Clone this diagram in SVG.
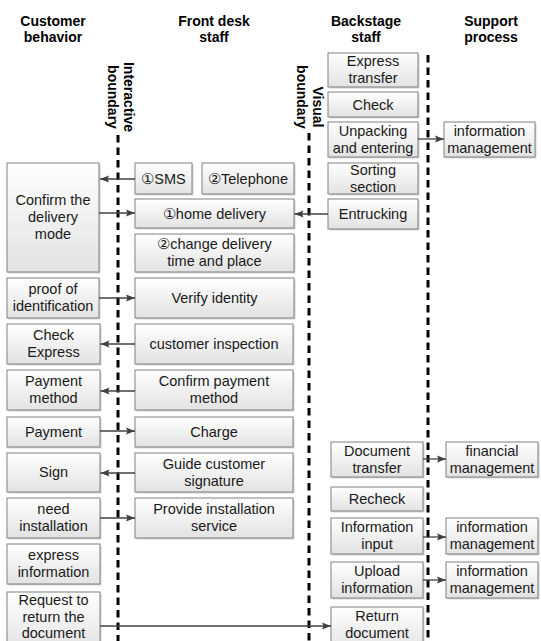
<svg xmlns="http://www.w3.org/2000/svg" width="541" height="641" viewBox="0 0 541 641">
<defs>
<linearGradient id="g" x1="0" y1="0" x2="0" y2="1">
<stop offset="0" stop-color="#ffffff"/>
<stop offset="1" stop-color="#e2e2e2"/>
</linearGradient>
<marker id="ah" markerUnits="userSpaceOnUse" markerWidth="10" markerHeight="8" refX="9" refY="4" orient="auto">
<path d="M0,0.5 L9,4 L0,7.5 L1.5,4 z" fill="#404040"/>
</marker>
<style>
.b{fill:url(#g);stroke:#808080;stroke-width:1}
.s{fill:#b8b8b8;opacity:0.6}
.t{font-family:"Liberation Sans",Arial,sans-serif;font-size:14.5px;fill:#1a1a1a;text-anchor:middle}
.h{font-family:"Liberation Sans",Arial,sans-serif;font-size:14px;font-weight:bold;fill:#000;text-anchor:middle}
.d{stroke:#000;stroke-width:3;stroke-dasharray:7.5 5;fill:none}
.a{stroke:#404040;stroke-width:1.3;fill:none;marker-end:url(#ah)}
</style>
</defs>
<rect width="541" height="641" fill="#fff"/>

<g id="headers">
<text class="h" x="53" y="26">Customer</text>
<text class="h" x="53" y="42">behavior</text>
<text class="h" x="214" y="26">Front desk</text>
<text class="h" x="214" y="42">staff</text>
<text class="h" x="366" y="26">Backstage</text>
<text class="h" x="366" y="42">staff</text>
<text class="h" x="491" y="26">Support</text>
<text class="h" x="491" y="42">process</text>
</g>

<g id="boundaries">
<line class="d" x1="118" y1="135" x2="118" y2="641"/>
<line class="d" x1="309" y1="133" x2="309" y2="641"/>
<line class="d" x1="428" y1="55" x2="428" y2="641"/>
<g transform="translate(0,97) rotate(90)">
<text class="h" x="0" y="-124">Interactive</text>
<text class="h" x="0" y="-108">boundary</text>
</g>
<g transform="translate(0,97) rotate(90)">
<text class="h" x="10" y="-313">Visual</text>
<text class="h" x="0" y="-297">boundary</text>
</g>
</g>

<g id="n1"><rect class="s" x="8.5" y="164.5" width="92" height="109"/><rect class="b" x="7" y="163" width="92" height="109"/><text class="t" x="53" y="205">Confirm the</text><text class="t" x="53" y="222">delivery</text><text class="t" x="53" y="239">mode</text></g>
<g id="n2"><rect class="s" x="8.5" y="279.5" width="92" height="40"/><rect class="b" x="7" y="278" width="92" height="40"/><text class="t" x="53" y="294">proof of</text><text class="t" x="53" y="311">identification</text></g>
<g id="n3"><rect class="s" x="8.5" y="325.5" width="93" height="40"/><rect class="b" x="7" y="324" width="93" height="40"/><text class="t" x="53.5" y="340">Check</text><text class="t" x="53.5" y="357">Express</text></g>
<g id="n4"><rect class="s" x="8.5" y="371.5" width="93" height="40"/><rect class="b" x="7" y="370" width="93" height="40"/><text class="t" x="53.5" y="386">Payment</text><text class="t" x="53.5" y="403">method</text></g>
<g id="n5"><rect class="s" x="8.5" y="418.5" width="93" height="30"/><rect class="b" x="7" y="417" width="93" height="30"/><text class="t" x="53.5" y="437">Payment</text></g>
<g id="n6"><rect class="s" x="8.5" y="454.5" width="93" height="39"/><rect class="b" x="7" y="453" width="93" height="39"/><text class="t" x="53.5" y="477">Sign</text></g>
<g id="n7"><rect class="s" x="8.5" y="499.5" width="93" height="40"/><rect class="b" x="7" y="498" width="93" height="40"/><text class="t" x="53.5" y="514">need</text><text class="t" x="53.5" y="531">installation</text></g>
<g id="n8"><rect class="s" x="8.5" y="545.5" width="93" height="40"/><rect class="b" x="7" y="544" width="93" height="40"/><text class="t" x="53.5" y="560">express</text><text class="t" x="53.5" y="577">information</text></g>
<g id="n9"><rect class="s" x="8.5" y="593.5" width="93" height="60"/><rect class="b" x="7" y="592" width="93" height="60"/><text class="t" x="53.5" y="605">Request to</text><text class="t" x="53.5" y="621.5">return the</text><text class="t" x="53.5" y="638">document</text></g>

<g id="f1"><rect class="s" x="136.5" y="164.5" width="57" height="31"/><rect class="b" x="135" y="163" width="57" height="31"/><text class="t" x="163.5" y="183.5">①SMS</text></g>
<g id="f2"><rect class="s" x="203.5" y="164.5" width="92" height="31"/><rect class="b" x="202" y="163" width="92" height="31"/><text class="t" x="248" y="183.5">②Telephone</text></g>
<g id="f3"><rect class="s" x="136.5" y="200.5" width="159" height="29"/><rect class="b" x="135" y="199" width="159" height="29"/><text class="t" x="214.5" y="218.5">①home delivery</text></g>
<g id="f4"><rect class="s" x="136.5" y="235.5" width="159" height="38"/><rect class="b" x="135" y="234" width="159" height="38"/><text class="t" x="214.5" y="249">②change delivery</text><text class="t" x="214.5" y="266">time and place</text></g>
<g id="f5"><rect class="s" x="136.5" y="279.5" width="159" height="40"/><rect class="b" x="135" y="278" width="159" height="40"/><text class="t" x="214.5" y="303">Verify identity</text></g>
<g id="f6"><rect class="s" x="136.5" y="325.5" width="158" height="40"/><rect class="b" x="135" y="324" width="158" height="40"/><text class="t" x="214" y="349">customer inspection</text></g>
<g id="f7"><rect class="s" x="136.5" y="371.5" width="158" height="40"/><rect class="b" x="135" y="370" width="158" height="40"/><text class="t" x="214" y="386">Confirm payment</text><text class="t" x="214" y="403">method</text></g>
<g id="f8"><rect class="s" x="136.5" y="418.5" width="158" height="30"/><rect class="b" x="135" y="417" width="158" height="30"/><text class="t" x="214" y="437">Charge</text></g>
<g id="f9"><rect class="s" x="136.5" y="454.5" width="158" height="39"/><rect class="b" x="135" y="453" width="158" height="39"/><text class="t" x="214" y="468.5">Guide customer</text><text class="t" x="214" y="485.5">signature</text></g>
<g id="f10"><rect class="s" x="136.5" y="499.5" width="158" height="40"/><rect class="b" x="135" y="498" width="158" height="40"/><text class="t" x="214" y="514">Provide installation</text><text class="t" x="214" y="531">service</text></g>

<g id="b1"><rect class="s" x="329.5" y="54.5" width="90" height="34"/><rect class="b" x="328" y="53" width="90" height="34"/><text class="t" x="373" y="66">Express</text><text class="t" x="373" y="83">transfer</text></g>
<g id="b2"><rect class="s" x="329.5" y="93.5" width="90" height="25"/><rect class="b" x="328" y="92" width="90" height="25"/><text class="t" x="373" y="109.5">Check</text></g>
<g id="b3"><rect class="s" x="329.5" y="123.5" width="90" height="35"/><rect class="b" x="328" y="122" width="90" height="35"/><text class="t" x="373" y="135.5">Unpacking</text><text class="t" x="373" y="152.5">and entering</text></g>
<g id="b4"><rect class="s" x="329.5" y="164.5" width="90" height="31"/><rect class="b" x="328" y="163" width="90" height="31"/><text class="t" x="373" y="174.5">Sorting</text><text class="t" x="373" y="191.5">section</text></g>
<g id="b5"><rect class="s" x="329.5" y="200.5" width="90" height="30"/><rect class="b" x="328" y="199" width="90" height="30"/><text class="t" x="373" y="219">Entrucking</text></g>
<g id="b6"><rect class="s" x="332.5" y="443.5" width="92" height="35"/><rect class="b" x="331" y="442" width="92" height="35"/><text class="t" x="377" y="455.5">Document</text><text class="t" x="377" y="472.5">transfer</text></g>
<g id="b7"><rect class="s" x="332.5" y="488.5" width="92" height="24"/><rect class="b" x="331" y="487" width="92" height="24"/><text class="t" x="377" y="504">Recheck</text></g>
<g id="b8"><rect class="s" x="332.5" y="519.5" width="92" height="36"/><rect class="b" x="331" y="518" width="92" height="36"/><text class="t" x="377" y="532">Information</text><text class="t" x="377" y="549">input</text></g>
<g id="b9"><rect class="s" x="332.5" y="563.5" width="92" height="36"/><rect class="b" x="331" y="562" width="92" height="36"/><text class="t" x="377" y="576">Upload</text><text class="t" x="377" y="593">information</text></g>
<g id="b10"><rect class="s" x="332.5" y="608.5" width="92" height="45"/><rect class="b" x="331" y="607" width="92" height="45"/><text class="t" x="377" y="621">Return</text><text class="t" x="377" y="638">document</text></g>

<g id="s1"><rect class="s" x="445.5" y="123.5" width="91" height="35"/><rect class="b" x="444" y="122" width="91" height="35"/><text class="t" x="489.5" y="135.5">information</text><text class="t" x="489.5" y="152.5">management</text></g>
<g id="s2"><rect class="s" x="447.5" y="443.5" width="92" height="35"/><rect class="b" x="446" y="442" width="92" height="35"/><text class="t" x="492" y="455.5">financial</text><text class="t" x="492" y="472.5">management</text></g>
<g id="s3"><rect class="s" x="447.5" y="519.5" width="92" height="36"/><rect class="b" x="446" y="518" width="92" height="36"/><text class="t" x="492" y="532">information</text><text class="t" x="492" y="549">management</text></g>
<g id="s4"><rect class="s" x="447.5" y="563.5" width="92" height="36"/><rect class="b" x="446" y="562" width="92" height="36"/><text class="t" x="492" y="576">information</text><text class="t" x="492" y="593">management</text></g>

<g id="connectors">
<line class="a" x1="135" y1="179" x2="100" y2="179"/>
<line class="a" x1="99" y1="213" x2="135" y2="213"/>
<line class="a" x1="328" y1="214" x2="294.5" y2="214"/>
<line class="a" x1="418" y1="139" x2="444" y2="139"/>
<line class="a" x1="99" y1="298" x2="135" y2="298"/>
<line class="a" x1="135" y1="344" x2="100.5" y2="344"/>
<line class="a" x1="135" y1="391" x2="100.5" y2="391"/>
<line class="a" x1="100" y1="431" x2="135" y2="431"/>
<line class="a" x1="135" y1="473" x2="100.5" y2="473"/>
<line class="a" x1="100" y1="518" x2="135" y2="518"/>
<line class="a" x1="100" y1="626" x2="331" y2="626"/>
<line class="a" x1="423" y1="459" x2="446" y2="459"/>
<line class="a" x1="423" y1="537" x2="446" y2="537"/>
<line class="a" x1="423" y1="580" x2="446" y2="580"/>
</g>
</svg>
